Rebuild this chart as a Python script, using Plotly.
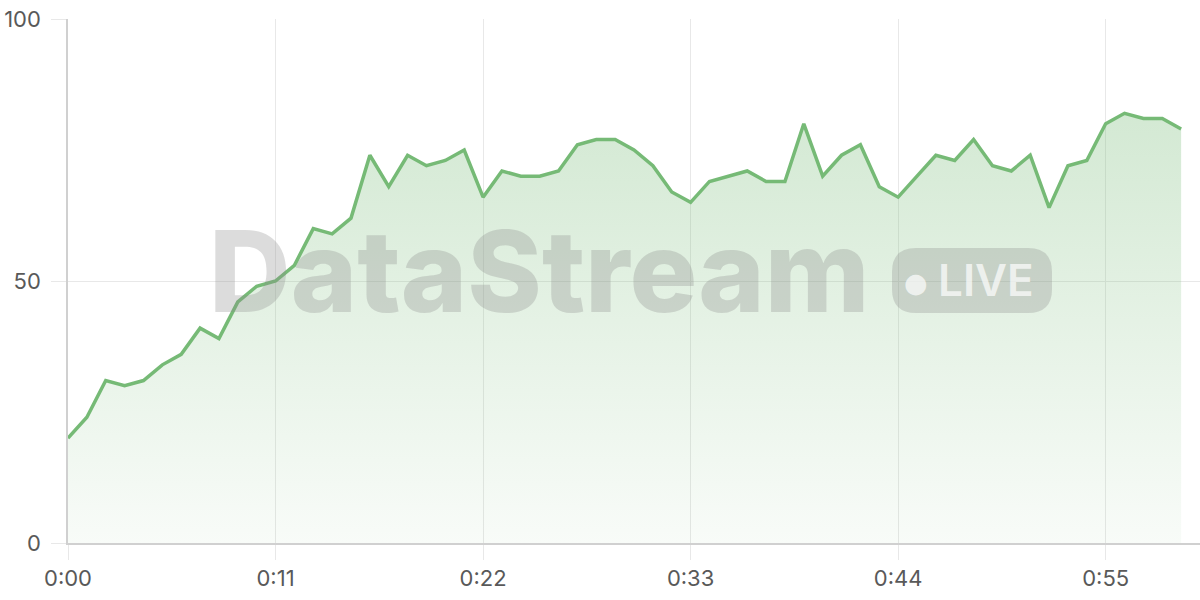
import plotly.graph_objects as go

seconds = list(range(60))
values = [20, 24, 31, 30, 31, 34, 36, 41, 39, 46,
          49, 50, 53, 60, 59, 62, 74, 68, 74, 72,
          73, 75, 66, 71, 70, 70, 71, 76, 77, 77,
          75, 72, 67, 65, 69, 70, 71, 69, 69, 80,
          70, 74, 76, 68, 66, 70, 74, 73, 77, 72,
          71, 74, 64, 72, 73, 80, 82, 81, 81, 79]
x_ticks = [0, 11, 22, 33, 44, 55]
x_tick_labels = ["0:00", "0:11", "0:22", "0:33", "0:44", "0:55"]
y_ticks = [0, 50, 100]
watermark = "DataStream"
badge = "LIVE"

L, R, T, B = 68, 0, 19, 57
PW, PH = 1200 - L - R, 600 - T - B


def px(xp):
    return (xp - L) / PW


def py(yp):
    return (600 - B - yp) / PH


fig = go.Figure()
fig.add_trace(go.Scatter(
    x=seconds, y=values, mode="lines",
    line=dict(color="rgb(118,186,118)", width=3.5),
    fill="tozeroy",
    fillgradient=dict(type="vertical",
                      colorscale=[[0, "rgba(118,186,118,0.05)"], [1, "rgba(118,186,118,0.32)"]]),
    hoverinfo="skip",
))

# watermark
fig.add_annotation(xref="paper", yref="paper", x=px(539), y=py(271), xanchor="center", yanchor="middle",
                   text=watermark, showarrow=False,
                   font=dict(family="Inter", size=113, weight=800, color="rgba(140,140,140,0.30)"))
# pill with rounded corners (pixel-sized path, y up)
w, h, r = 160, 65, 24
x0, x1, y0, y1 = 0, w, -h / 2, h / 2
path = (f"M {x0 + r},{y1} L {x1 - r},{y1} Q {x1},{y1} {x1},{y1 - r} L {x1},{y0 + r} "
        f"Q {x1},{y0} {x1 - r},{y0} L {x0 + r},{y0} Q {x0},{y0} {x0},{y0 + r} "
        f"L {x0},{y1 - r} Q {x0},{y1} {x0 + r},{y1} Z")
fig.add_shape(type="path", xref="paper", yref="paper", xsizemode="pixel", ysizemode="pixel",
              xanchor=px(892), yanchor=py(280.5),
              path=path, line=dict(width=0), fillcolor="rgba(140,140,140,0.30)",
              layer="above")
fig.add_annotation(xref="paper", yref="paper", x=px(916), y=py(282),
                   text="●", showarrow=False, xanchor="center", yanchor="middle",
                   font=dict(family="DejaVu Sans", size=27, color="rgba(255,255,255,0.7)"))
fig.add_annotation(xref="paper", yref="paper", x=px(986), y=py(280), text=badge,
                   showarrow=False, xanchor="center", yanchor="middle",
                   font=dict(family="Inter", size=44, weight=600, color="rgba(255,255,255,0.7)"))

fig.update_layout(
    width=1200, height=600,
    margin=dict(l=L, r=R, t=T, b=B, autoexpand=False),
    paper_bgcolor="white", plot_bgcolor="white",
    showlegend=False,
    font=dict(family="Inter", size=22, color="#595959"),
    xaxis=dict(range=[0, 60], tickvals=x_ticks, ticktext=x_tick_labels,
               showgrid=True, gridcolor="#e8e8e8", gridwidth=1,
               ticks="outside", ticklen=15, tickcolor="#e8e8e8",
               showline=True, linecolor="#d0d0d0", linewidth=1.5,
               zeroline=False, fixedrange=True, automargin=False),
    yaxis=dict(range=[0, 100], tickvals=y_ticks, ticklabelstandoff=6,
               showgrid=True, gridcolor="#e8e8e8", gridwidth=1,
               ticks="outside", ticklen=15, tickcolor="#e8e8e8",
               showline=True, linecolor="#d0d0d0", linewidth=1.5,
               zeroline=False, fixedrange=True, automargin=False),
)

fig.write_html("out.html", config={"displayModeBar": False},
               post_script="document.body.style.margin='0';document.body.style.overflow='hidden';")
